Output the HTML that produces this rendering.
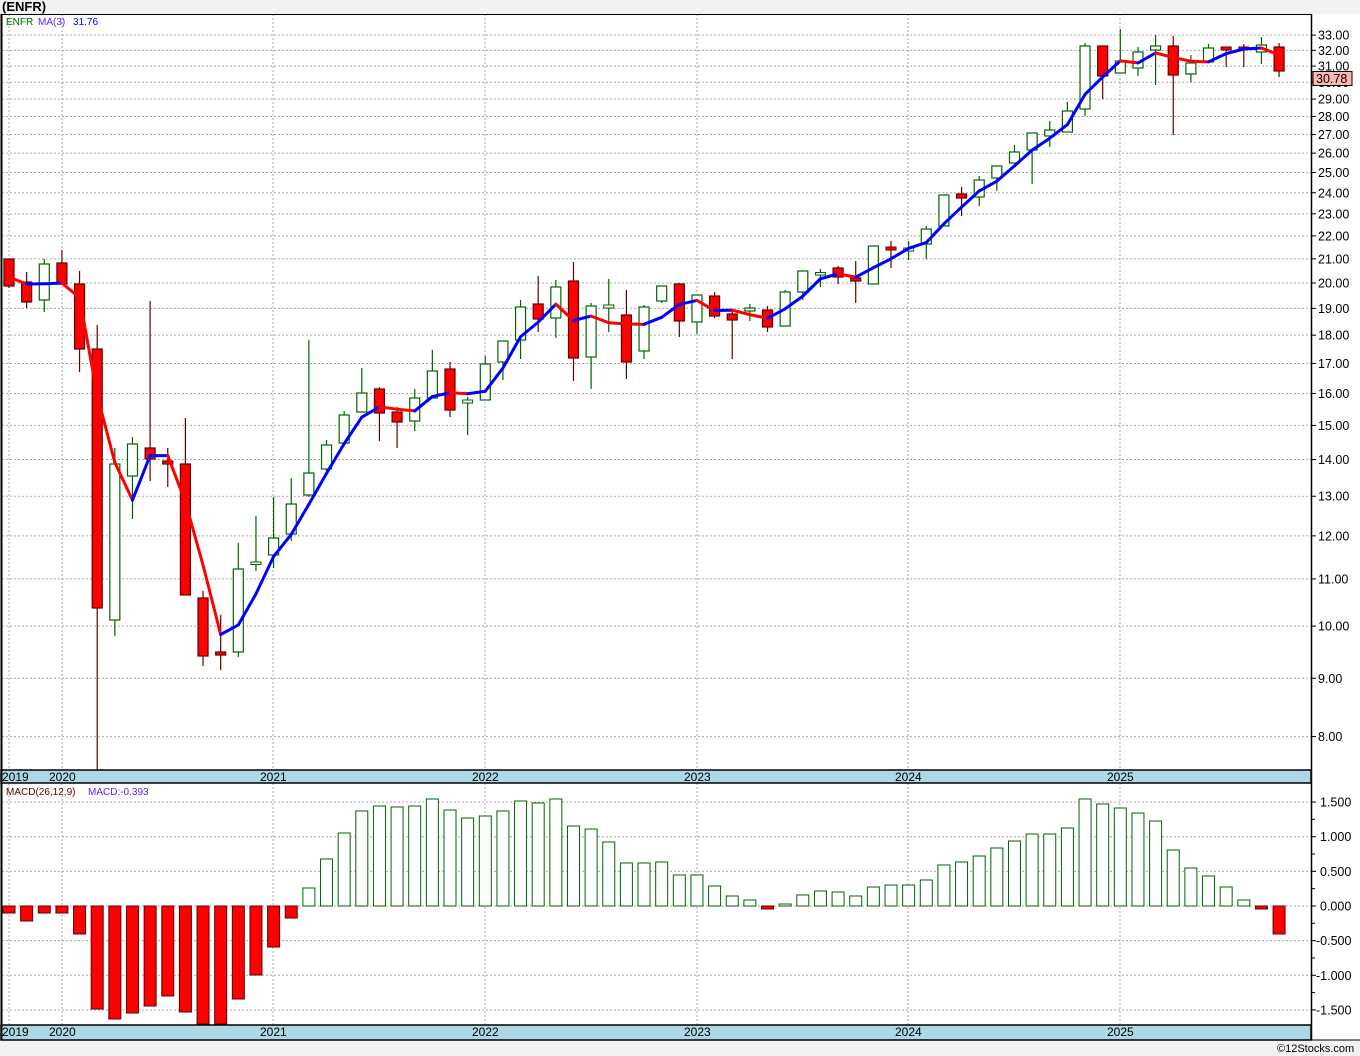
<!DOCTYPE html>
<html><head><meta charset="utf-8">
<style>
html,body{margin:0;padding:0;background:#f2f2f2;}
svg{display:block;font-family:"Liberation Sans",sans-serif;}
</style></head>
<body>
<svg id="c" width="1360" height="1056" xmlns="http://www.w3.org/2000/svg"></svg>
<script>
var S=document.getElementById('c'),h='';
function Y(p){return 283-495*Math.log(p/20);}
function P(y){return 20*Math.exp((283-y)/495);}
h+='<rect x="0" y="0" width="1360" height="1056" fill="#f2f2f2"/>';
h+='<text x="2" y="11" font-size="13" font-weight="bold" fill="#000">(ENFR)</text>';
h+='<rect x="1" y="14" width="1310" height="756" fill="#fff"/>';
h+='<rect x="1" y="783" width="1310" height="242" fill="#fff"/>';
h+='<rect x="1311" y="14" width="49" height="1026" fill="#fff"/>';
for(var p=8;p<=33;p++){var y=Y(p);h+='<line x1="2" x2="1311" y1="'+y+'" y2="'+y+'" stroke="#aaa" stroke-dasharray="2,2"/>';
h+='<line x1="1311" x2="1316" y1="'+y+'" y2="'+y+'" stroke="#000"/>';
h+='<text x="1318" y="'+(y+4.5)+'" font-size="12.5" fill="#000">'+p.toFixed(2)+'</text>';}
var yrs=[9,62,273,485,697,908,1120];
yrs.forEach(function(x){h+='<line x1="'+x+'" x2="'+x+'" y1="14" y2="770" stroke="#aaa" stroke-dasharray="2,2"/>';h+='<line x1="'+x+'" x2="'+x+'" y1="783" y2="1025" stroke="#aaa" stroke-dasharray="2,2"/>';});
var mv=[1.5,1,0.5,0,-0.5,-1,-1.5];
mv.forEach(function(v){var y=906-69.3*v;h+='<line x1="2" x2="1311" y1="'+y+'" y2="'+y+'" stroke="#aaa" stroke-dasharray="2,2"/>';
h+='<line x1="1311" x2="1316" y1="'+y+'" y2="'+y+'" stroke="#000"/>';
h+='<text x="'+(v<0?1316:1320)+'" y="'+(y+4.5)+'" font-size="12.5" fill="#000">'+(v<0?'-':'')+Math.abs(v).toFixed(3)+'</text>';
var y2=y+17.3;if(v>-1.5)h+='<line x1="1311" x2="1315" y1="'+y2+'" y2="'+y2+'" stroke="#000"/>';});
var C=[[259,286,259,288],[282,302,272,308],[300,264,259,312],[263,284,250,284],[284,349,271,372],[349,608,325,770],[620,464,448,636],[476,444,437,519],[448,459,301,481],[461,464,448,487],[464,595,418,595],[598,656,591,666],[652,655,615,670],[652,569,543,657],[564,563,516,571],[555,538,497,568],[534,504,478,541],[495,473,340,497],[469,445,440,474],[443,415,411,443],[412,393,368,412],[389,413,387,441],[412,422,407,448],[421,398,389,431],[398,371,350,398],[369,410,362,417],[403,401,397,435],[400,364,356,400],[362,341,341,380],[340,307,300,359],[304,319,276,332],[318,287,280,338],[281,358,262,381],[357,306,303,389],[308,306,279,332],[315,362,290,379],[351,307,305,359],[301,286,286,303],[284,321,283,337],[322,295,295,334],[296,316,292,318],[314,320,310,359],[311,308,304,321],[310,327,306,332],[326,292,290,326],[292,271,271,300],[274.5,273.5,269,287],[268,277,266,284],[278,281,261,303],[284,246,246,284],[248,250,241,268],[251,249,241,260],[244,229,226,259],[226,195,195,226],[194,198,187,216],[197,180,176,206],[178,166,166,191],[163,152,145,163],[150,133,133,184],[136,130,121,147],[132,111,102,132],[109,46,43,116],[46,76,46,99],[73,61,29,73],[68,52,47,76],[50,46,35,85],[46,75,36,135],[74,63,55,82],[62,48,44,62],[48,50,48,67],[48,49,44,67],[52,45,37,64],[47,71,43,77]];
var M=[913,921,913,913,934,1009,1019,1013,1006,996,1012,1024,1024,999,975,947,918,888,859,833,811,806,807,806,799,810,818,816,811,801,803,799,826,829,842,863,863,862,875,875,886,896,900,909,904,895,891,892,896,887,885,885,880,865,862,856,848,841,834,834,828,799,804,808,813,821,850,868,876,887,900,909,934];
function X(i){return 9+17.64*i;}
C.forEach(function(c,i){var x=X(i),up=c[1]<c[0],col=up?'#006400':'#600000';
var t=Math.min(c[0],c[1]),b=Math.max(c[0],c[1]);
h+='<line x1="'+x+'" x2="'+x+'" y1="'+c[2]+'" y2="'+c[3]+'" stroke="'+col+'" stroke-width="1.2"/>';
if(b-t<2.5){h+='<rect x="'+(x-5)+'" y="'+(t-1)+'" width="10" height="'+Math.max(2.5,b-t+1)+'" fill="'+(up?'#fff':'#f00')+'" stroke="'+col+'"/>';}
else h+='<rect x="'+(x-5)+'" y="'+t+'" width="10" height="'+(b-t)+'" fill="'+(up?'#fff':'#f00')+'" stroke="'+col+'" stroke-width="1.2"/>';});
var ma=[];for(var i=2;i<C.length;i++){var s=0;for(var k=i-2;k<=i;k++)s+=P(C[k][1]);ma[i]=Y(s/3);}
ma[0]=277;ma[1]=284;
for(var i=1;i<C.length;i++){var col=ma[i]>ma[i-1]+0.3?'#ff0000':'#0000ff';
h+='<line x1="'+X(i-1)+'" y1="'+ma[i-1]+'" x2="'+X(i)+'" y2="'+ma[i]+'" stroke="'+col+'" stroke-width="3" stroke-linecap="round"/>';}
M.forEach(function(y,i){var x=X(i),neg=y>906;var t=Math.min(y,906),b=Math.max(y,906);
h+='<rect x="'+(x-6)+'" y="'+t+'" width="12" height="'+Math.max(1,b-t)+'" fill="'+(neg?'#f00':'#fff')+'" stroke="'+(neg?'#600000':'#006400')+'"/>';});
[[770,783],[1025,1040]].forEach(function(r){h+='<rect x="1" y="'+r[0]+'" width="1310" height="'+(r[1]-r[0])+'" fill="#add8e6" stroke="#000" stroke-width="1.5"/>';
var lab=[[2,'2019'],[49,'2020'],[260,'2021'],[472,'2022'],[684,'2023'],[895,'2024'],[1107,'2025']];
lab.forEach(function(l){h+='<text x="'+l[0]+'" y="'+(r[0]+11)+'" font-size="12" fill="#000">'+l[1]+'</text>';});});
h+='<line x1="1" x2="1311" y1="14.5" y2="14.5" stroke="#000"/>';
h+='<line x1="1.5" x2="1.5" y1="14" y2="1040" stroke="#000" stroke-width="2"/>';
h+='<line x1="1311.5" x2="1311.5" y1="14" y2="1040" stroke="#000" stroke-width="1.5"/>';
h+='<line x1="1" x2="1360" y1="1040" y2="1040" stroke="#000"/>';
h+='<text x="6" y="25" font-size="10" fill="#006400">ENFR</text><text x="38" y="25" font-size="10" fill="#6020ff">MA(3)</text><text x="73" y="25" font-size="10" fill="#0000ff">31.76</text>';
h+='<text x="6" y="795" font-size="10" fill="#600000">MACD(26,12,9)</text><text x="88" y="795" font-size="10" fill="#6020ff">MACD:-0.393</text>';
h+='<rect x="1313" y="71.5" width="39" height="14" fill="#ffb6b0" stroke="#000"/><text x="1316" y="83" font-size="12.5" fill="#000">30.78</text>';
h+='<text x="1277" y="1052" font-size="11" fill="#000">©12Stocks.com</text>';
S.innerHTML=h;
</script>
</body></html>
